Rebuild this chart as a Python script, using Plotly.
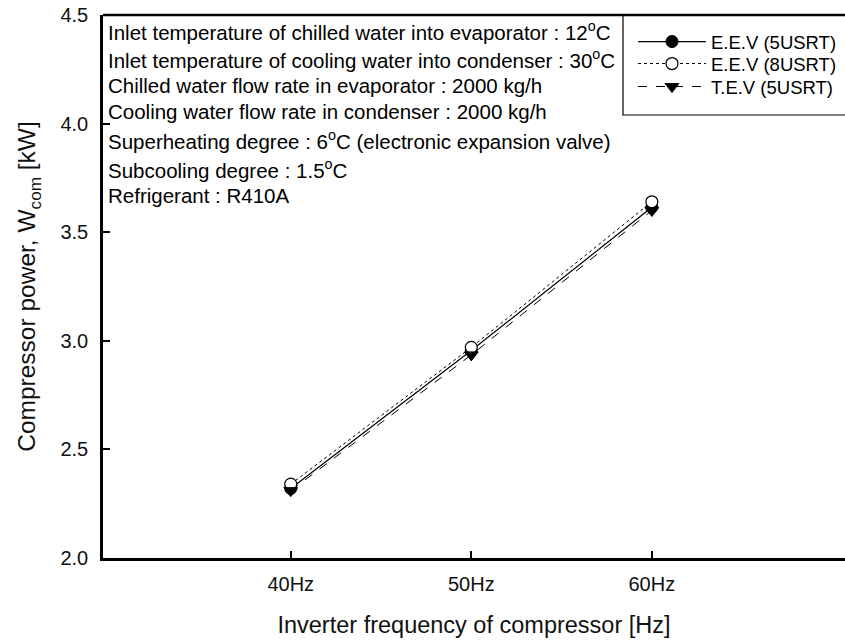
import plotly.graph_objects as go

freq = [40, 50, 60]
freq_labels = ["40Hz", "50Hz", "60Hz"]
eev_5usrt = [2.32, 2.955, 3.615]
eev_8usrt = [2.34, 2.97, 3.64]
tev_5usrt = [2.31, 2.935, 3.60]

info_lines = [
    "Inlet temperature of chilled water into evaporator : 12<sup>o</sup>C",
    "Inlet temperature of cooling water into condenser : 30<sup>o</sup>C",
    "Chilled water flow rate in evaporator : 2000 kg/h",
    "Cooling water flow rate in condenser : 2000 kg/h",
    "Superheating degree : 6<sup>o</sup>C (electronic expansion valve)",
    "Subcooling degree : 1.5<sup>o</sup>C",
    "Refrigerant : R410A",
]

W, H = 845, 643
L, R, T, B = 103, 0, 15, 643 - 558
PW = W - L - R
PH = H - T - B

def px_to_paper_y(y):
    return 1 - (y - T) / PH

def px_to_paper_x(x):
    return (x - L) / PW

info_y_px = [31, 59, 85, 111, 140, 169, 195]
legend_y_px = [42, 64, 87]

FONT = "Liberation Sans, Arial, sans-serif"
INK = "#111111"

fig = go.Figure()
fig.add_trace(go.Scatter(
    x=freq, y=eev_5usrt, name="E.E.V (5USRT)", mode="lines+markers", legend="legend",
    line=dict(color="black", width=1.2, dash="solid"),
    marker=dict(symbol="circle", size=12, color="black", line=dict(color="black", width=1)),
))
fig.add_trace(go.Scatter(
    x=freq, y=eev_8usrt, name="E.E.V (8USRT)", mode="lines+markers", legend="legend2",
    line=dict(color="black", width=1, dash="dot"),
    marker=dict(symbol="circle", size=12, color="white", line=dict(color="black", width=1.2)),
))
fig.add_trace(go.Scatter(
    x=freq, y=tev_5usrt, name="T.E.V (5USRT)", mode="lines+markers", legend="legend3",
    line=dict(color="black", width=1, dash="dash"),
    marker=dict(symbol="triangle-down", size=12, color="black", line=dict(color="black", width=1)),
))

for txt, yp in zip(info_lines, info_y_px):
    fig.add_annotation(
        text=txt, xref="paper", yref="paper", x=px_to_paper_x(106), y=px_to_paper_y(yp),
        xanchor="left", yanchor="middle", showarrow=False,
        font=dict(family=FONT, size=20.5, color="black"),
    )

# top border and legend box
fig.add_shape(type="line", xref="paper", yref="paper", x0=0, x1=1.05, y0=1, y1=1,
              line=dict(color="black", width=2.5))
fig.add_shape(type="rect", xref="paper", yref="paper",
              x0=px_to_paper_x(623), x1=1.2,
              y0=px_to_paper_y(115), y1=1,
              line=dict(color="black", width=1.2))

leg_common = dict(
    xanchor="left", yanchor="middle", bgcolor="rgba(0,0,0,0)", borderwidth=0,
    font=dict(family=FONT, size=18.5, color="black"), itemwidth=68,
)
fig.update_layout(
    width=W, height=H,
    margin=dict(l=L, r=R, t=T, b=B, pad=0),
    paper_bgcolor="white", plot_bgcolor="white",
    font=dict(family=FONT, color="black"),
    showlegend=True,
    legend=dict(x=px_to_paper_x(633), y=px_to_paper_y(legend_y_px[0]), **leg_common),
    legend2=dict(x=px_to_paper_x(633), y=px_to_paper_y(legend_y_px[1]), **leg_common),
    legend3=dict(x=px_to_paper_x(633), y=px_to_paper_y(legend_y_px[2]), **leg_common),
    xaxis=dict(
        range=[29.6, 70.7], tickvals=freq, ticktext=freq_labels,
        showgrid=False, zeroline=False, showline=True, linecolor="black", linewidth=2.5,
        ticks="inside", ticklen=7, tickwidth=2, tickcolor="black",
        tickfont=dict(family=FONT, size=20, color=INK),
        ticklabelstandoff=6,
        title=dict(text="Inverter frequency of compressor [Hz]", standoff=23,
                   font=dict(family=FONT, size=23.5, color=INK)),
        automargin=False,
    ),
    yaxis=dict(
        range=[2.0, 4.5], tickvals=[2.0, 2.5, 3.0, 3.5, 4.0, 4.5], tickformat=".1f",
        showgrid=False, zeroline=False, showline=True, linecolor="black", linewidth=2.5,
        ticks="inside", ticklen=7, tickwidth=2, tickcolor="black",
        tickfont=dict(family=FONT, size=20, color=INK),
        ticklabelstandoff=8, ticklabeloverflow="allow",
        title=dict(text="Compressor power, W<sub>com</sub> [kW]", standoff=18,
                   font=dict(family=FONT, size=24.5, color=INK)),
        automargin=False,
    ),
)

fig.write_html(
    "out.html",
    config={"displayModeBar": False},
    post_script="document.body.style.margin='0';document.body.style.overflow='hidden';",
)
